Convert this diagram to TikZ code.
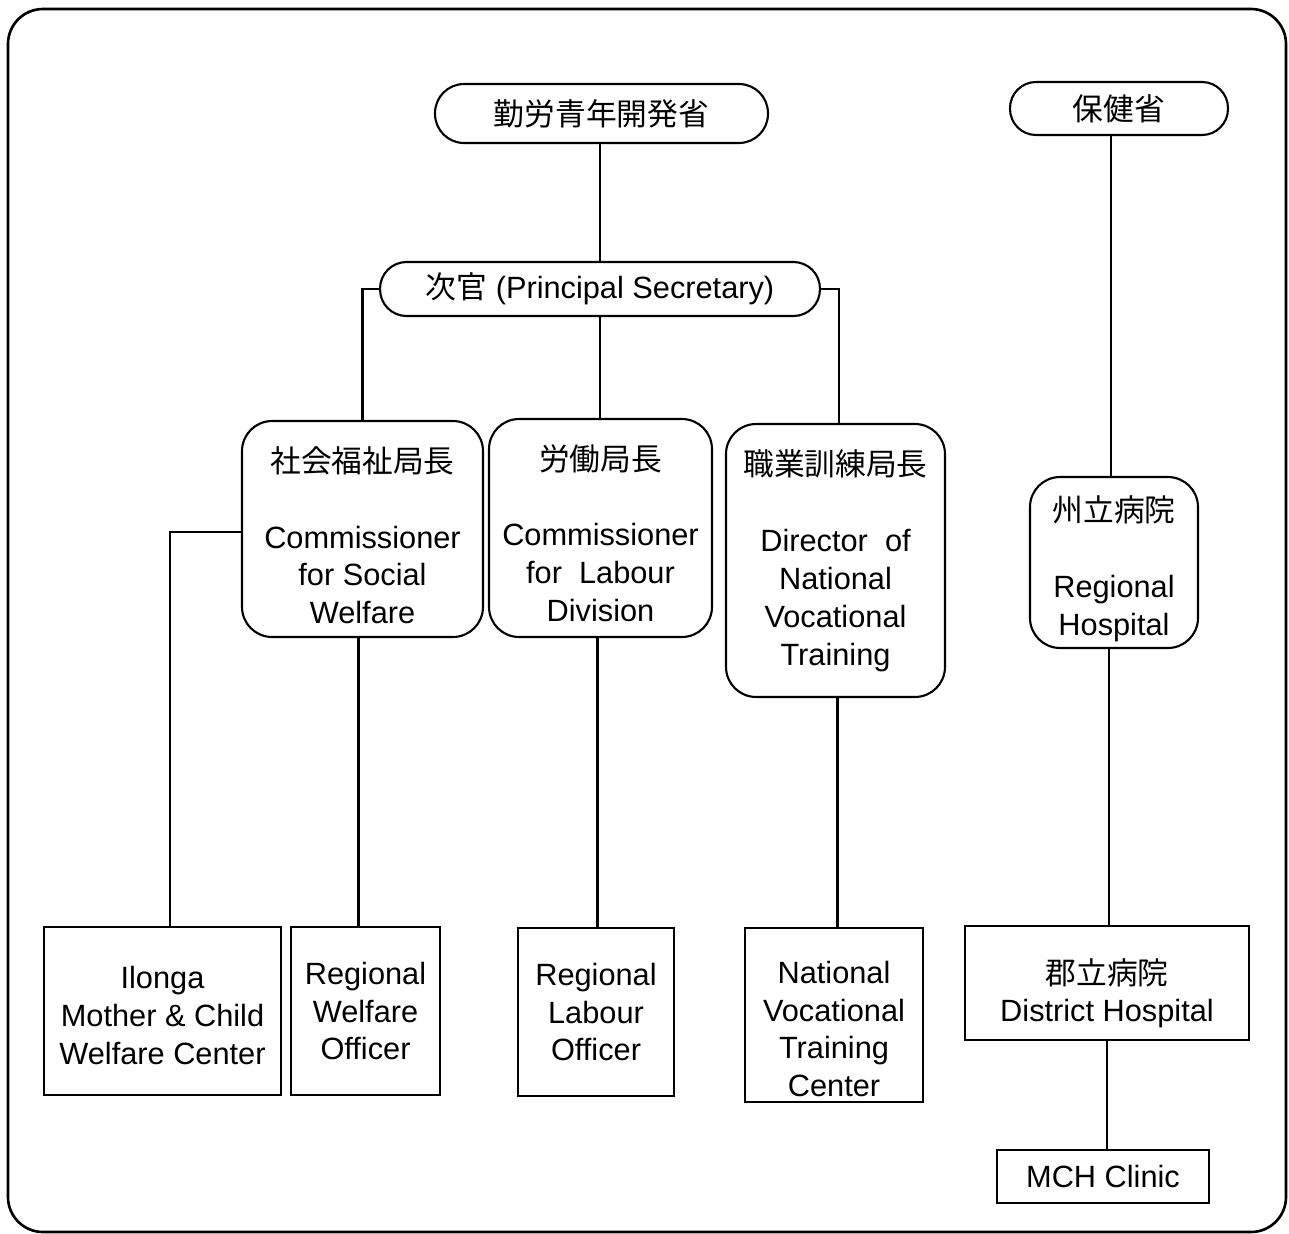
\documentclass[tikz,border=0pt]{standalone}
\usepackage{fontspec}
\setmainfont{Liberation Sans}
\newfontfamily\jp{Noto Sans CJK JP}
\newcommand{\lift}[1]{\rule{0pt}{#1}}
\begin{document}
\begin{tikzpicture}[x=0.02cm,y=-0.02cm,
  every node/.style={font=\fontsize{17.5}{21.6}\selectfont, align=center, inner sep=0pt, line width=1.2pt},
  pill/.style={draw, rectangle, rounded corners=#1},
  rbox/.style={draw, rectangle, rounded corners=0.6cm},
  sbox/.style={draw, rectangle},
  conn/.style={line width=1.2pt}]
\useasboundingbox (0,0) rectangle (1289,1234);
\draw[line width=1.5pt, rounded corners=0.7cm] (8,9) rectangle (1286,1232);

\node[pill=0.58cm, minimum width=6.66cm, minimum height=1.18cm] (top1) at (601.5,113.5) {\jp 勤労青年開発省};
\node[pill=0.52cm, minimum width=4.36cm, minimum height=1.06cm] (top2) at (1119,108.5) {\jp 保健省};
\node[pill=0.53cm, minimum width=8.8cm, minimum height=1.08cm] (ps) at (600,289) {{\jp 次官} (Principal Secretary)};

\node[rbox, minimum width=4.82cm, minimum height=4.32cm] (sw) at (362.5,529) {\lift{21.8pt}{\jp 社会福祉局長}\\[21.6pt]Commissioner\\for Social\\Welfare};
\node[rbox, minimum width=4.46cm, minimum height=4.36cm] (lab) at (600.5,528) {\lift{20.6pt}{\jp 労働局長}\\[21.6pt]Commissioner\\for\ \ Labour\\Division};
\node[rbox, minimum width=4.38cm, minimum height=5.46cm] (voc) at (835.5,560.5) {{\jp 職業訓練局長}\\[21.6pt]Director\ \ of\\National\\Vocational\\Training};
\node[rbox, minimum width=3.36cm, minimum height=3.42cm] (rh) at (1114,562.5) {\lift{21.8pt}{\jp 州立病院}\\[21.6pt]Regional\\Hospital};

\node[sbox, minimum width=4.74cm, minimum height=3.36cm] (ilo) at (162.5,1011) {\lift{17.4pt}Ilonga\\Mother \& Child\\Welfare Center};
\node[sbox, minimum width=2.98cm, minimum height=3.36cm] (rwo) at (365.5,1011) {Regional\\Welfare\\Officer};
\node[sbox, minimum width=3.12cm, minimum height=3.36cm] (rlo) at (596,1012) {Regional\\Labour\\Officer};
\node[sbox, minimum width=3.56cm, minimum height=3.48cm] (nvtc) at (834,1015) {\lift{28.6pt}National\\Vocational\\Training\\Center};
\node[sbox, minimum width=5.68cm, minimum height=2.28cm] (dh) at (1107,983) {\lift{26.4pt}{\jp 郡立病院}\\District Hospital};
\node[sbox, minimum width=4.24cm, minimum height=1.06cm] (mch) at (1103,1176.5) {MCH Clinic};

\draw[conn] (top1.south -| ps.north) -- (ps.north);
\draw[conn] (ps.west) -- (ps.west -| sw.north) -- (sw.north);
\draw[conn] (ps.east) -- ++(18,0) coordinate (psr) -- (psr |- voc.north);
\draw[conn] (ps.south) -- (ps.south |- lab.north);
\draw[conn] (sw.west) ++(0,3) coordinate (swl) -- (swl -| 170,0) coordinate (ilc) -- (ilc |- ilo.north);
\draw[conn] (sw.south) ++(-4,0) coordinate (sws) -- (sws |- rwo.north);
\draw[conn] (lab.south) ++(-3,0) coordinate (labs) -- (labs |- rlo.north);
\draw[conn] (voc.south) ++(2,0) coordinate (vocs) -- (vocs |- nvtc.north);
\draw[conn] (top2.south) ++(-8,0) coordinate (t2s) -- (t2s |- rh.north);
\draw[conn] (rh.south) ++(-5,0) coordinate (rhs) -- (rhs |- dh.north);
\draw[conn] (dh.south) -- (dh.south |- mch.north);
\end{tikzpicture}
\end{document}
